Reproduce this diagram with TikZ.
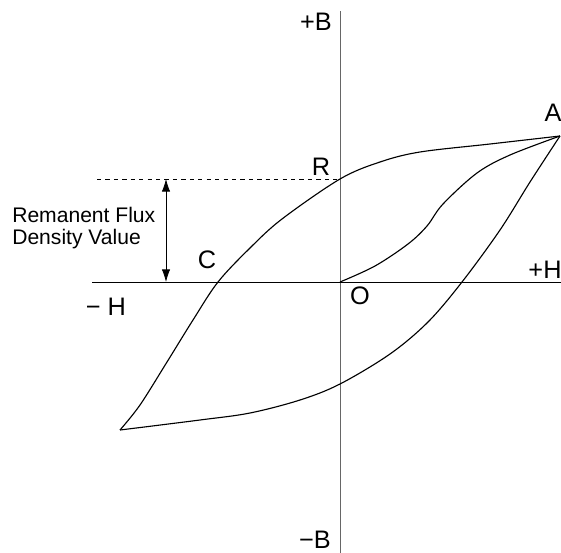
\documentclass[tikz,border=0pt]{standalone}
\usepackage{fontspec}
\setmainfont{Liberation Sans}
\usetikzlibrary{arrows.meta}
\tikzset{
  lbl/.style={font=\fontsize{18}{21}\selectfont, inner sep=0pt},
  curve/.style={line width=0.8pt, smooth, tension=0.55}
}
\begin{document}
\begin{tikzpicture}[x=0.025cm, y=-0.025cm]
  \useasboundingbox (0,0) rectangle (561,553);
  % Axes
  \coordinate (Btop) at (340,11);
  \coordinate (Bbot) at (340,553);
  \coordinate (Hleft) at (92,282);
  \coordinate (Hright) at (561,282);
  \draw[gray!80!black, line width=0.7pt] (Btop) -- (Bbot);
  \draw[line width=0.7pt] (Hleft) -- (Hright);
  % Key points
  \coordinate (O) at (340,282);
  \coordinate (R) at (340,179);
  \coordinate (A) at (560,136);
  \coordinate (T) at (120,430);
  % Remanent flux
  \coordinate (Dl) at (97,179);
  \coordinate (Ut) at (166,179);
  \coordinate (Ub) at (166,282);
  \draw[dashed, line width=0.5pt] (Dl) -- (R);
  \draw[{Latex[length=9pt,width=6pt]}-{Latex[length=9pt,width=6pt]}, line width=0.6pt] (Ut) -- (Ub);
  % Initial magnetisation curve
  \draw[curve] plot coordinates {(340,282) (375,266) (408,244) (427,226)
    (443,204) (477,173) (510,155) (560,136)};
  % Upper branch
  \draw[curve] plot coordinates {(120,430) (140,405) (167,362) (193,320)
    (218,282) (250,248) (282,219) (340,179) (380,162) (420,152) (490,144) (560,136)};
  % Lower branch
  \draw[curve] plot coordinates {(560,136) (530,182) (500,230) (462,282)
    (428,322) (390,354) (340,384) (300,400) (250,413) (200,420) (120,430)};
  % Labels
  \node[lbl] (lBp) at (316,22) {+B};
  \node[lbl] (lBm) at (315,540) {−B};
  \node[lbl] (lA) at (553,113) {A};
  \node[lbl] (lR) at (321,167) {R};
  \node[lbl] (lHp) at (545,270) {+H};
  \node[lbl] (lO) at (360,296) {O};
  \node[lbl] (lC) at (207,260) {C};
  \node[lbl] (lHm) at (106,307) {− H};
  \node[font=\fontsize{15}{15}\selectfont, align=left, anchor=west, inner sep=0pt]
    (lRem) at (12,228) {Remanent Flux\\Density Value};
\end{tikzpicture}
\end{document}
